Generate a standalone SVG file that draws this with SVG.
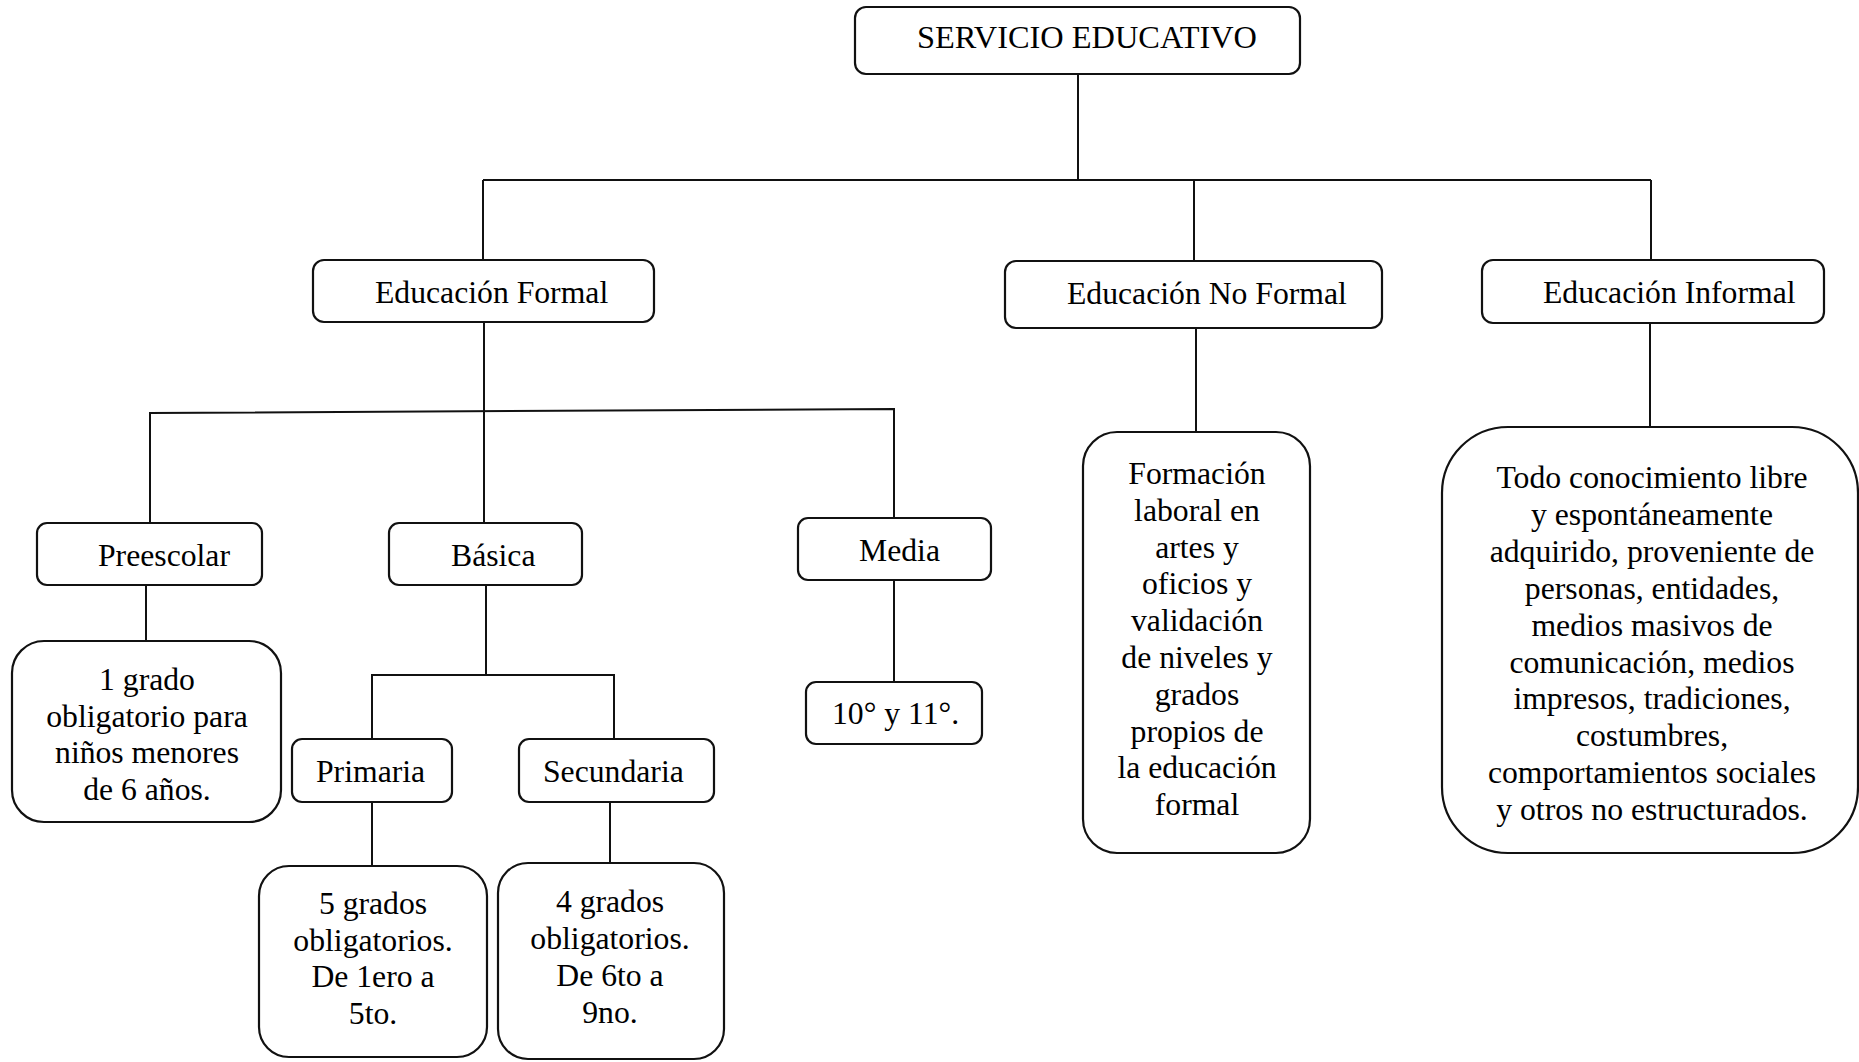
<svg xmlns="http://www.w3.org/2000/svg" width="1859" height="1062" viewBox="0 0 1859 1062">
<style>
.box{fill:#fff;stroke:#111;stroke-width:2.2}
.ln{stroke:#111;stroke-width:2;fill:none}
text{font-family:"Liberation Serif","Times New Roman",serif;font-size:31.7px;fill:#000}
.c{text-anchor:middle}
</style>
<rect width="1859" height="1062" fill="#fff"/>
<g id="connectors">
<line class="ln" x1="1078" y1="74" x2="1078" y2="180"/>
<line class="ln" x1="483" y1="180" x2="1651" y2="180"/>
<line class="ln" x1="483" y1="180" x2="483" y2="260"/>
<line class="ln" x1="1194" y1="180" x2="1194" y2="261"/>
<line class="ln" x1="1651" y1="180" x2="1651" y2="260"/>
<line class="ln" x1="484" y1="322" x2="484" y2="523"/>
<polyline class="ln" points="150,523 150,413 894,409 894,518"/>
<line class="ln" x1="146" y1="585" x2="146" y2="641"/>
<line class="ln" x1="486" y1="585" x2="486" y2="675"/>
<polyline class="ln" points="372,739 372,675 614,675 614,739"/>
<line class="ln" x1="372" y1="802" x2="372" y2="866"/>
<line class="ln" x1="610" y1="802" x2="610" y2="863"/>
<line class="ln" x1="894" y1="580" x2="894" y2="682"/>
<line class="ln" x1="1196" y1="328" x2="1196" y2="432"/>
<line class="ln" x1="1650" y1="323" x2="1650" y2="427"/>
</g>
<g id="servicio">
<rect class="box" x="855" y="7" width="445" height="67" rx="11"/>
<text x="917" y="48" textLength="340" lengthAdjust="spacingAndGlyphs">SERVICIO EDUCATIVO</text>
</g>
<g id="formal">
<rect class="box" x="313" y="260" width="341" height="62" rx="11"/>
<text x="375" y="303">Educación Formal</text>
</g>
<g id="noformal">
<rect class="box" x="1005" y="261" width="377" height="67" rx="11"/>
<text x="1067" y="304">Educación No Formal</text>
</g>
<g id="informal">
<rect class="box" x="1482" y="260" width="342" height="63" rx="11"/>
<text x="1543" y="303">Educación Informal</text>
</g>
<g id="preescolar">
<rect class="box" x="37" y="523" width="225" height="62" rx="10"/>
<text x="98" y="566">Preescolar</text>
</g>
<g id="basica">
<rect class="box" x="389" y="523" width="193" height="62" rx="10"/>
<text x="451" y="566">Básica</text>
</g>
<g id="media">
<rect class="box" x="798" y="518" width="193" height="62" rx="10"/>
<text x="859" y="561">Media</text>
</g>
<g id="grado1">
<rect class="box" x="12" y="641" width="269" height="181" rx="32"/>
<text class="c" x="147" y="690">1 grado</text>
<text class="c" x="147" y="727">obligatorio para</text>
<text class="c" x="147" y="763">niños menores</text>
<text class="c" x="147" y="800">de 6 años.</text>
</g>
<g id="primaria">
<rect class="box" x="292" y="739" width="160" height="63" rx="10"/>
<text x="316" y="782">Primaria</text>
</g>
<g id="secundaria">
<rect class="box" x="519" y="739" width="195" height="63" rx="10"/>
<text x="543" y="782">Secundaria</text>
</g>
<g id="grados5">
<rect class="box" x="259" y="866" width="228" height="191" rx="30"/>
<text class="c" x="373" y="914">5 grados</text>
<text class="c" x="373" y="951">obligatorios.</text>
<text class="c" x="373" y="987">De 1ero a</text>
<text class="c" x="373" y="1024">5to.</text>
</g>
<g id="grados4">
<rect class="box" x="498" y="863" width="226" height="196" rx="30"/>
<text class="c" x="610" y="912">4 grados</text>
<text class="c" x="610" y="949">obligatorios.</text>
<text class="c" x="610" y="986">De 6to a</text>
<text class="c" x="610" y="1023">9no.</text>
</g>
<g id="grados1011">
<rect class="box" x="806" y="682" width="176" height="62" rx="10"/>
<text x="832" y="724">10° y 11°.</text>
</g>
<g id="formacion">
<rect class="box" x="1083" y="432" width="227" height="421" rx="34"/>
<text class="c" x="1197" y="484">Formación</text>
<text class="c" x="1197" y="520.8">laboral en</text>
<text class="c" x="1197" y="557.6">artes y</text>
<text class="c" x="1197" y="594.4">oficios y</text>
<text class="c" x="1197" y="631.2">validación</text>
<text class="c" x="1197" y="668">de niveles y</text>
<text class="c" x="1197" y="704.8">grados</text>
<text class="c" x="1197" y="741.6">propios de</text>
<text class="c" x="1197" y="778.4">la educación</text>
<text class="c" x="1197" y="815.2">formal</text>
</g>
<g id="todo">
<rect class="box" x="1442" y="427" width="416" height="426" rx="66"/>
<text class="c" x="1652" y="488">Todo conocimiento libre</text>
<text class="c" x="1652" y="524.9">y espontáneamente</text>
<text class="c" x="1652" y="561.8">adquirido, proveniente de</text>
<text class="c" x="1652" y="598.7">personas, entidades,</text>
<text class="c" x="1652" y="635.6">medios masivos de</text>
<text class="c" x="1652" y="672.5">comunicación, medios</text>
<text class="c" x="1652" y="709.4">impresos, tradiciones,</text>
<text class="c" x="1652" y="746.3">costumbres,</text>
<text class="c" x="1652" y="783.2">comportamientos sociales</text>
<text class="c" x="1652" y="820.1">y otros no estructurados.</text>
</g>
</svg>
